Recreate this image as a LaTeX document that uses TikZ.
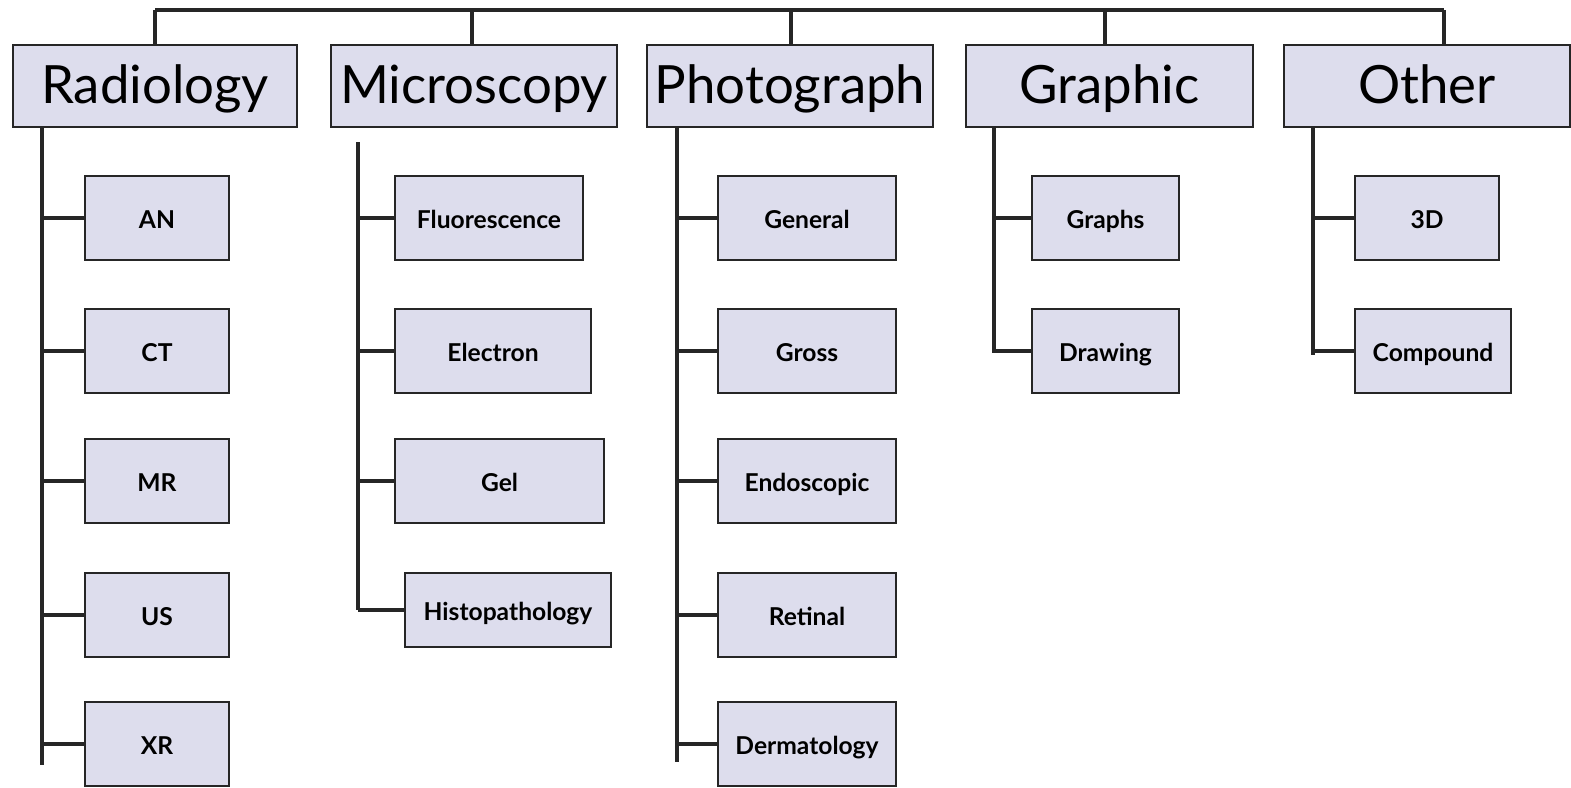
\documentclass[tikz,border=0pt]{standalone}
\usepackage{fontspec}
\setmainfont{Lato}
\definecolor{boxfill}{RGB}{221,221,237}
\begin{document}
\begin{tikzpicture}[x=0.01cm,y=-0.01cm,
  hdr/.style={draw=black!85,line width=0.6pt,fill=boxfill,inner sep=0pt,
    minimum height=0.82cm,text height=14pt,text depth=3.8pt,
    font=\fontsize{15}{16}\selectfont},
  leaf/.style={draw=black!85,line width=0.6pt,fill=boxfill,inner sep=0pt,
    minimum height=0.84cm,text height=7.6pt,text depth=1.9pt,
    font=\bfseries\fontsize{7}{8}\selectfont},
  wire/.style={line width=0.9pt,black!85}]
\useasboundingbox (0,0) rectangle (1571,787);

% category headers
\node[hdr,minimum width=2.84cm] (rad) at (155,86) {Radiology};
\node[hdr,minimum width=2.86cm] (mic) at (474,86) {Microscopy};
\node[hdr,minimum width=2.86cm] (pho) at (790,86) {Photograph};
\node[hdr,minimum width=2.87cm] (gra) at (1109.5,86) {Graphic};
\node[hdr,minimum width=2.86cm] (oth) at (1427,86) {Other};

% top bus
\coordinate (b1) at (155,10);
\coordinate (b2) at (472,10);
\coordinate (b3) at (791,10);
\coordinate (b4) at (1105,10);
\coordinate (b5) at (1444,10);
\draw[wire] (b1) -- (b5);
\foreach \b/\h in {b1/rad,b2/mic,b3/pho,b4/gra,b5/oth}
  \draw[wire] (\b) -- (\b |- \h.north);

% Radiology
\node[leaf,minimum width=1.44cm] (an) at (157,218) {AN};
\node[leaf,minimum width=1.44cm] (ct) at (157,351) {CT};
\node[leaf,minimum width=1.44cm] (mr) at (157,481) {MR};
\node[leaf,minimum width=1.44cm] (us) at (157,615) {US};
\node[leaf,minimum width=1.44cm] (xr) at (157,744) {XR};
\coordinate (radtop) at (42,127);
\coordinate (radend) at (42,765);
\draw[wire] (radtop) -- (radend);
\foreach \n in {an,ct,mr,us,xr}
  \draw[wire] (\n.west) -- (\n.west -| radtop);

% Microscopy
\node[leaf,minimum width=1.88cm] (flu) at (489,218) {Fluorescence};
\node[leaf,minimum width=1.96cm] (ele) at (493,351) {Electron};
\node[leaf,minimum width=2.09cm] (gel) at (499.5,481) {Gel};
\node[leaf,minimum width=2.06cm,minimum height=0.74cm] (his) at (508,610) {Histopathology};
\coordinate (mictop) at (358,142);
\coordinate (micend) at (358,610);
\draw[wire] (mictop) -- (micend);
\foreach \n in {flu,ele,gel,his}
  \draw[wire] (\n.west) -- (\n.west -| mictop);

% Photograph
\node[leaf,minimum width=1.78cm] (gen) at (807,218) {General};
\node[leaf,minimum width=1.78cm] (gro) at (807,351) {Gross};
\node[leaf,minimum width=1.78cm] (end) at (807,481) {Endoscopic};
\node[leaf,minimum width=1.78cm] (ret) at (807,615) {Retinal};
\node[leaf,minimum width=1.78cm] (der) at (807,744) {Dermatology};
\coordinate (photop) at (677,127);
\coordinate (phoend) at (677,762);
\draw[wire] (photop) -- (phoend);
\foreach \n in {gen,gro,end,ret,der}
  \draw[wire] (\n.west) -- (\n.west -| photop);

% Graphic
\node[leaf,minimum width=1.47cm] (gph) at (1105.5,218) {Graphs};
\node[leaf,minimum width=1.47cm] (drw) at (1105.5,351) {Drawing};
\coordinate (gratop) at (994,127);
\coordinate (graend) at (994,353);
\draw[wire] (gratop) -- (graend);
\foreach \n in {gph,drw}
  \draw[wire] (\n.west) -- (\n.west -| gratop);

% Other
\node[leaf,minimum width=1.44cm] (thd) at (1427,218) {3D};
\node[leaf,minimum width=1.56cm] (cmp) at (1433,351) {Compound};
\coordinate (othtop) at (1313,127);
\coordinate (othend) at (1313,355);
\draw[wire] (othtop) -- (othend);
\foreach \n in {thd,cmp}
  \draw[wire] (\n.west) -- (\n.west -| othtop);
\end{tikzpicture}
\end{document}
